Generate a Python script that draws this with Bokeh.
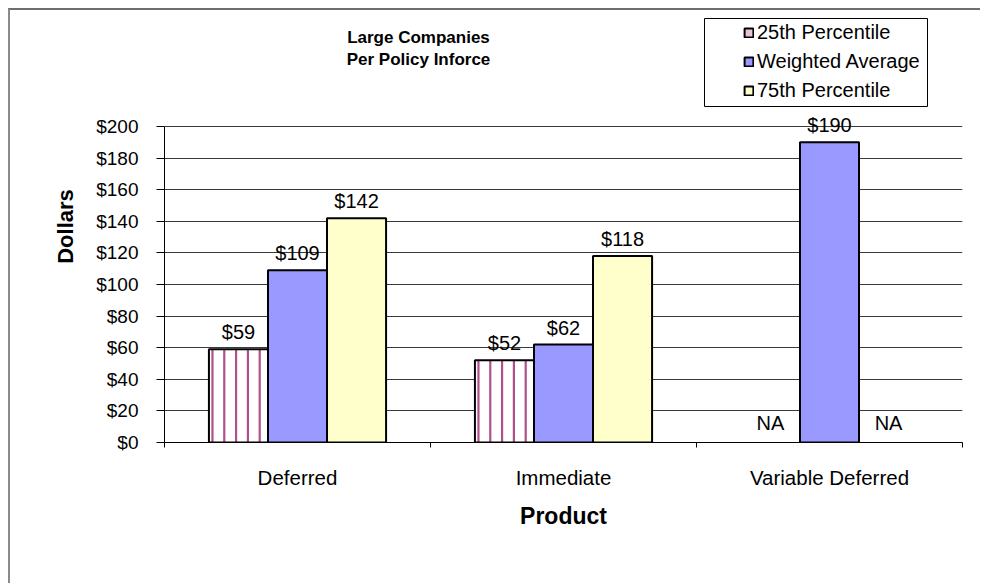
import math
from bokeh.plotting import figure
from bokeh.models import (ColumnDataSource, Range1d, FixedTicker, Legend, LegendItem,
                          Label, NumeralTickFormatter, BoxAnnotation)
from bokeh.transform import dodge
from bokeh.core.properties import value
from bokeh.embed import file_html
from bokeh.resources import INLINE

# ---- data ----
categories = ["Deferred", "Immediate", "Variable Deferred"]
series_names = ["25th Percentile", "Weighted Average", "75th Percentile"]
p25 = [59, 52, None]
wavg = [109, 62, 190]
p75 = [142, 118, None]
y_ticks = [0, 20, 40, 60, 80, 100, 120, 140, 160, 180, 200]
title_lines = ["Large Companies", "Per Policy Inforce"]
x_title = "Product"
y_title = "Dollars"

FONT = "Liberation Sans"
BW = 0.222
offsets = [-BW, 0.0, BW]
series = [p25, wavg, p75]
colors = ["white", "#9999ff", "#ffffcc"]
STRIPE = "#b0508a"
N_STRIPES = 5

centers = [i + 0.5 for i in range(len(categories))]

# frame: plot area spans 200 units in 316 px; extra headroom above for title/legend
Y_TOP = y_ticks[-1] * 432.0 / 316.0

p = figure(width=972, height=575, output_backend="svg", toolbar_location=None,
           x_range=Range1d(0, len(categories)), y_range=Range1d(y_ticks[0], Y_TOP),
           min_border_left=154, min_border_right=20, min_border_top=0, min_border_bottom=143)
p.outline_line_color = None
p.background_fill_color = "white"
p.border_fill_color = "white"
p.styles = {"margin-top": "8px", "margin-left": "8px",
            "border-top": "2px solid #6f6f6f", "border-left": "2px solid #8a8a8a"}

renderers = []
for k, (vals, off, col) in enumerate(zip(series, offsets, colors)):
    ys = [float("nan") if v is None else v for v in vals]
    src = ColumnDataSource(dict(x=centers, top=ys))
    if k == 0:
        p.vbar(x=dodge("x", off, range=p.x_range), top="top", width=BW, bottom=0,
               source=src, fill_color="white", line_color=None)
        sx, sy = [], []
        for c, v in zip(centers, vals):
            if v is None:
                continue
            left = c + off - BW / 2
            for j in range(N_STRIPES):
                sx.append(left + (j + 0.3) * BW / N_STRIPES)
                sy.append(v)
        ssrc = ColumnDataSource(dict(x=sx, y=sy))
        p.segment(x0="x", y0=0, x1="x", y1="y", source=ssrc, line_color=STRIPE, line_width=2.2)
        p.vbar(x=dodge("x", off, range=p.x_range), top="top", width=BW, bottom=0,
               source=src, fill_color=None, line_color="black", line_width=2)
        # legend proxy (no visible bar)
        r = p.vbar(x=[float("nan")], top=[float("nan")], width=BW, fill_color="#e4c4d6",
                   line_color="black", line_width=2)
    else:
        r = p.vbar(x=dodge("x", off, range=p.x_range), top="top", width=BW, bottom=0,
                   source=src, fill_color=col, line_color="black", line_width=2)
    renderers.append(r)
    # value labels
    lx = [c for c, v in zip(centers, vals) if v is not None]
    ly = [v for v in vals if v is not None]
    lt = ["$%d" % v for v in vals if v is not None]
    lsrc = ColumnDataSource(dict(x=lx, y=ly, t=lt))
    p.text(x=dodge("x", off, range=p.x_range), y="y", text="t", source=lsrc,
           text_align="center", text_baseline="bottom", y_offset=-6,
           text_font=value(FONT), text_font_size="20px", text_color="black")
    nx = [c for c, v in zip(centers, vals) if v is None]
    if nx:
        nsrc = ColumnDataSource(dict(x=nx, y=[0] * len(nx), t=["NA"] * len(nx)))
        p.text(x=dodge("x", off, range=p.x_range), y="y", text="t", source=nsrc,
               text_align="center", text_baseline="bottom", y_offset=-9,
               text_font=value(FONT), text_font_size="20px", text_color="black")

# axes
p.xgrid.visible = False
p.ygrid.ticker = FixedTicker(ticks=y_ticks)
p.ygrid.grid_line_color = "#3a3a3a"
p.ygrid.grid_line_width = 1

yax = p.yaxis[0]
yax.ticker = FixedTicker(ticks=y_ticks)
yax.bounds = (y_ticks[0], y_ticks[-1])
yax.formatter = NumeralTickFormatter(format="$0")
yax.major_tick_out = 8
yax.major_tick_in = 0
yax.minor_tick_line_color = None
yax.axis_line_color = "black"
yax.major_tick_line_color = "black"
yax.major_label_text_font = FONT
yax.major_label_text_font_size = "19px"
yax.major_label_text_color = "black"
yax.major_label_standoff = 18
yax.axis_label = y_title
yax.axis_label_text_font = FONT
yax.axis_label_text_font_style = "bold"
yax.axis_label_text_font_size = "22px"
yax.axis_label_text_color = "black"
yax.axis_label_standoff = 15

xax = p.xaxis[0]
xax.ticker = FixedTicker(ticks=centers, minor_ticks=list(range(len(categories) + 1)))
xax.major_label_overrides = {c: name for c, name in zip(centers, categories)}
xax.major_tick_line_color = None
xax.major_tick_out = 0
xax.major_tick_in = 0
xax.minor_tick_out = 5
xax.minor_tick_in = 0
xax.minor_tick_line_color = "black"
xax.axis_line_color = "black"
xax.major_label_text_font = FONT
xax.major_label_text_font_size = "20.5px"
xax.major_label_text_color = "black"
xax.major_label_standoff = 18
xax.axis_label = x_title
xax.axis_label_text_font = FONT
xax.axis_label_text_font_style = "bold"
xax.axis_label_text_font_size = "23px"
xax.axis_label_text_color = "black"
xax.axis_label_standoff = 11

# legend frame (wider box, as in the reference)
p.add_layout(BoxAnnotation(left=540, right=763, bottom=336, top=424,
                           left_units="screen", right_units="screen",
                           bottom_units="screen", top_units="screen",
                           fill_color="white", fill_alpha=1,
                           line_color="black", line_width=1, line_alpha=1, level="overlay"))

# legend
legend = Legend(items=[LegendItem(label=n, renderers=[r]) for n, r in zip(series_names, renderers)],
                location=(579, 340), orientation="vertical",
                glyph_width=11, glyph_height=11, label_standoff=3, spacing=6, padding=6,
                label_text_font=FONT, label_text_font_size="20px", label_text_color="black",
                border_line_color=None, background_fill_alpha=0,
                label_height=22)
p.add_layout(legend, "center")

# title
p.add_layout(Label(x=254, y=394, x_units="screen", y_units="screen",
                   text="\n".join(title_lines), text_align="center", text_baseline="middle",
                   text_font=FONT, text_font_size="17px", text_font_style="bold",
                   text_color="black", text_line_height=1.2))

open("out.html", "w").write(file_html(p, INLINE))
